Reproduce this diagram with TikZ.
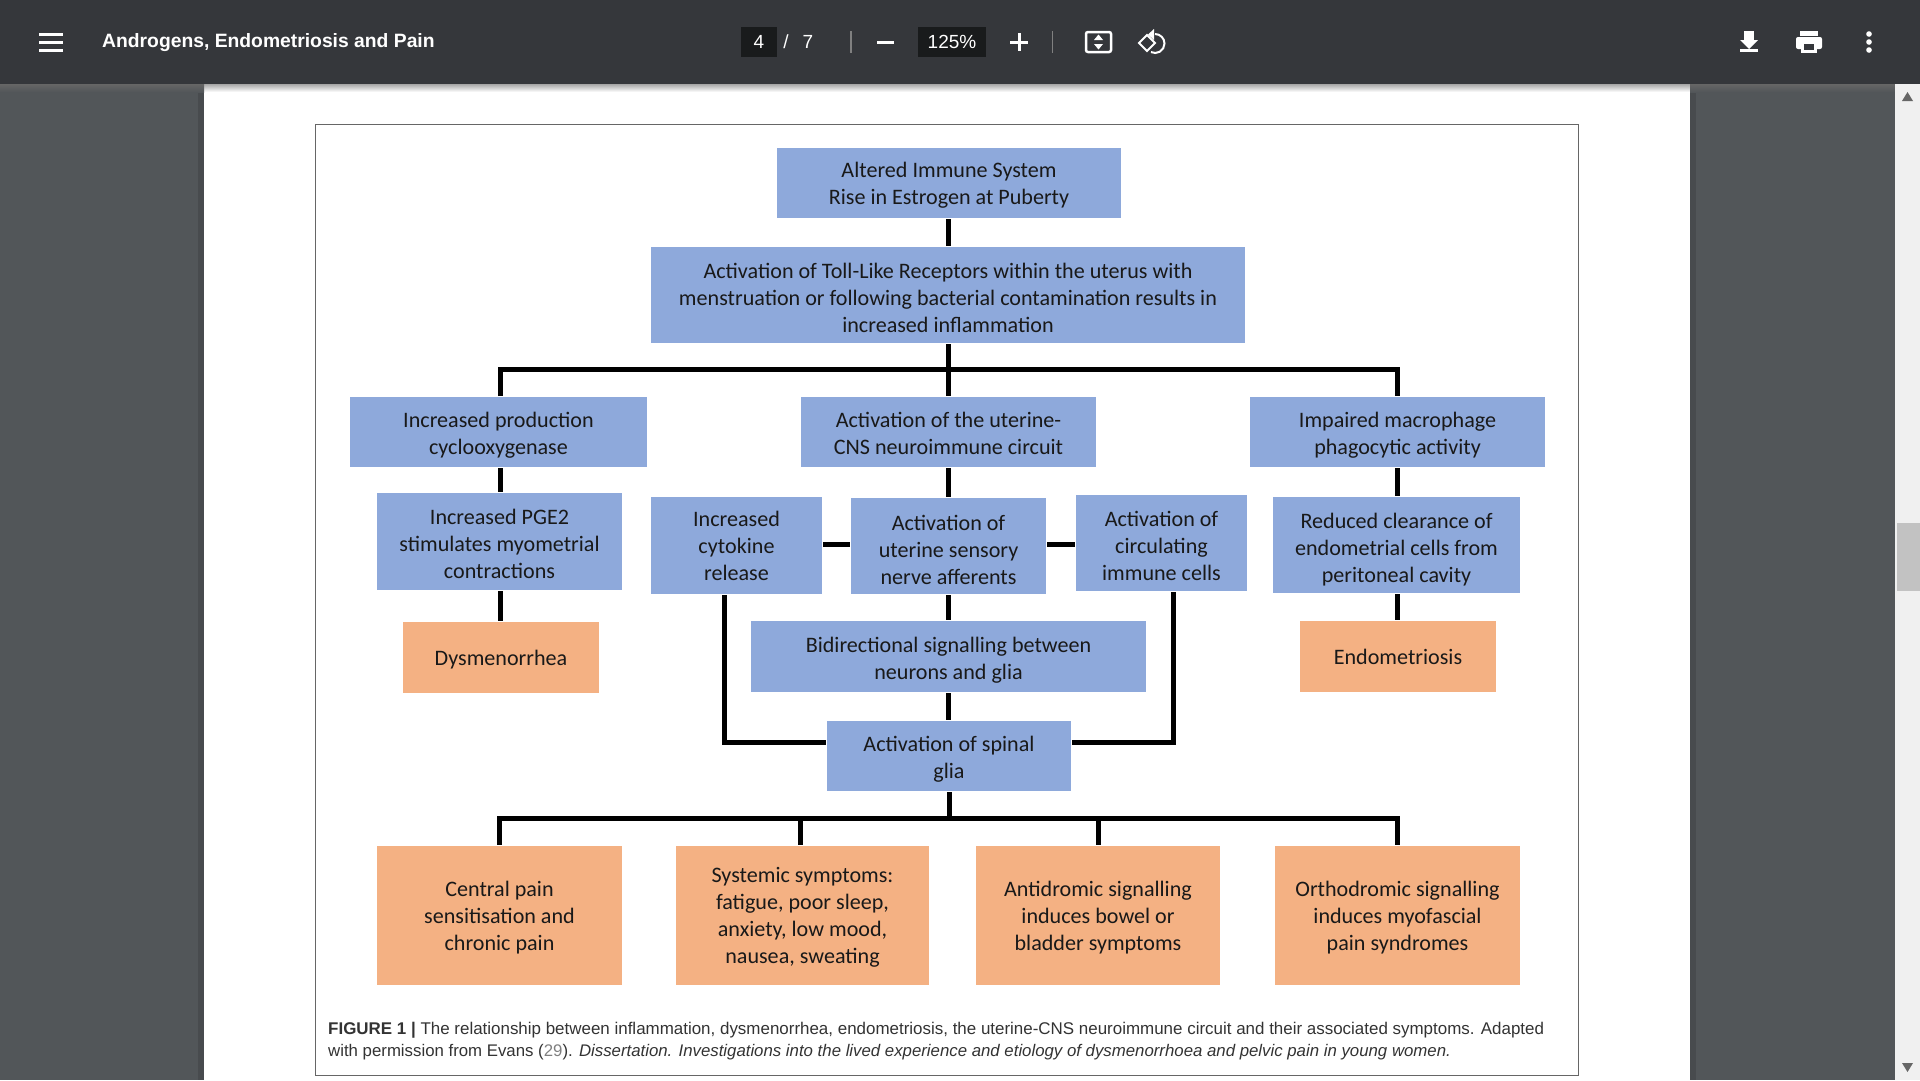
\documentclass[tikz,border=0pt]{standalone}
\usepackage{fontspec}
\setmainfont{Carlito}
\newfontfamily\barfont{Liberation Sans}
\usetikzlibrary{calc}
\definecolor{barcol}{HTML}{35373B}
\definecolor{sidecol}{HTML}{525659}
\definecolor{fieldcol}{HTML}{191B1C}
\definecolor{bluecol}{HTML}{8EA9DB}
\definecolor{orangecol}{HTML}{F4B183}
\tikzset{
	box/.style={inner sep=0pt, outer sep=1pt, align=center, text=black!90, font=\fontsize{22.1}{27}\selectfont, text depth=6pt},
	bluebox/.style 2 args={box, fill=bluecol, minimum width=#1, minimum height=#2},
	orangebox/.style 2 args={box, fill=orangecol, minimum width=#1, minimum height=#2},
	link/.style={line width=5pt, black},
	caption/.style={inner sep=0pt, anchor=west, text=black!80, font=\barfont\fontsize{16.95}{22}\selectfont},
	bartext/.style={inner sep=0pt, text=white, font=\barfont\fontsize{19}{22}\selectfont},
	icon/.style={white, line width=3pt}
}

\begin{document}
\begin{tikzpicture}[x=1pt, y=-1pt]
	\useasboundingbox (0, 0) rectangle (1920, 1080);
	\fill[sidecol] (0, 0) rectangle (1920, 1080);
	\fill[black, opacity=0.12] (198, 84) rectangle (204, 1080);
	\fill[black, opacity=0.12] (1690, 84) rectangle (1696, 1080);
	\fill[white] (204, 84) rectangle (1690, 1080);
	
	\shade[top color=black!35, bottom color=white] (204, 84) rectangle (1690, 92);
	\shade[top color=black!60, bottom color=sidecol] (0, 84) rectangle (204, 92);
	\shade[top color=black!60, bottom color=sidecol] (1690, 84) rectangle (1895, 92);
	
	\fill[black!6] (1895, 84) rectangle (1920, 1080);
	\fill[black!24] (1897, 523) rectangle (1920, 591);
	\fill[black!60] (1902, 101) -- (1907.5, 92) -- (1913, 101) -- cycle;
	\fill[black!60] (1902, 1063) -- (1907.5, 1072) -- (1913, 1063) -- cycle;
	
	\fill[barcol] (0, 0) rectangle (1920, 84);
	
	\draw[icon] (39, 34) -- (63, 34);
	\draw[icon] (39, 42) -- (63, 42);
	\draw[icon] (39, 50) -- (63, 50);
	\node[bartext, anchor=west, font=\barfont\bfseries\fontsize{19.3}{22}\selectfont] (doctitle) at (102, 43) {Androgens, Endometriosis and Pain};
	
	\fill[fieldcol] (741, 27) rectangle (777, 57);
	\node[bartext] (pagenum) at (759, 42) {4};
	\node[bartext] (pageslash) at (786, 42) {/};
	\node[bartext] (pagetotal) at (808, 42) {7};
	\draw[black!50, line width=1.5pt] (851, 31) -- (851, 53);
	\draw[icon] (877, 42) -- (894, 42);
	\fill[fieldcol] (918, 27) rectangle (986, 57);
	\node[bartext] (zoomlevel) at (952, 42) {125\%};
	\draw[icon] (1010, 42) -- (1028, 42);
	\draw[icon] (1019, 33) -- (1019, 51);
	\draw[black!50, line width=1pt] (1052, 31) -- (1052, 53);
	
	\draw[white, line width=2.5pt, rounded corners=2pt] (1086, 32) rectangle (1111, 52);
	\fill[white] (1094, 40) -- (1098.5, 34.5) -- (1103, 40) -- cycle;
	\fill[white] (1094, 44) -- (1098.5, 49.5) -- (1103, 44) -- cycle;
	\draw[white, line width=2pt] (1139, 43) -- (1147, 35) -- (1155, 43) -- (1147, 51) -- cycle;
	\draw[white, line width=2pt] (1155, 34) arc (-90:115:9.5);
	\fill[white] (1154, 29) -- (1154, 40) -- (1148, 34.5) -- cycle;
	
	\fill[white] (1744, 31) rectangle (1754, 41);
	\fill[white] (1740, 40) -- (1758, 40) -- (1749, 49) -- cycle;
	\fill[white] (1740, 49) rectangle (1758, 52);
	\fill[white] (1800, 31) rectangle (1818, 36);
	\fill[white, rounded corners=2pt] (1796, 37) rectangle (1822, 49);
	\fill[white] (1801, 44) rectangle (1817, 53);
	\fill[barcol] (1804, 44) rectangle (1814, 50);
	\fill[white] (1869, 34) circle (2.8);
	\fill[white] (1869, 42) circle (2.8);
	\fill[white] (1869, 50) circle (2.8);
	
	\draw[black!60, line width=1pt] (315, 124.5) rectangle (1578, 1075);
	
	\node[bluebox={344}{70}, text height=49pt] (immune) at (949, 183) {Altered Immune System\\Rise in Estrogen at Puberty};
	\node[bluebox={594}{96}, text height=80pt] (toll) at (948, 295) {Activation of Toll-Like Receptors within the uterus with\\menstruation or following bacterial contamination results in\\increased inflammation};
	
	\node[bluebox={297}{70}, text height=51pt] (production) at (498.5, 432) {Increased production\\cyclooxygenase};
	\node[bluebox={295}{70}, text height=51pt] (circuit) at (948.5, 432) {Activation of the uterine-\\CNS neuroimmune circuit};
	\node[bluebox={295}{70}, text height=51pt] (macrophage) at (1397.5, 432) {Impaired macrophage\\phagocytic activity};
	
	\node[bluebox={245}{97}, text height=80pt] (pge) at (499.5, 541.5) {Increased PGE2\\stimulates myometrial\\contractions};
	\node[orangebox={196}{71}, text height=21pt] (dysmenorrhea) at (501, 657.5) {Dysmenorrhea};
	
	\node[bluebox={171}{97}, text height=76pt] (cytokine) at (736.5, 545.5) {Increased\\cytokine\\release};
	\node[bluebox={195}{96}, text height=82pt] (sensory) at (948.5, 546) {Activation of\\uterine sensory\\nerve afferents};
	\node[bluebox={171}{96}, text height=81pt] (circulating) at (1161.5, 543) {Activation of\\circulating\\immune cells};
	\node[bluebox={247}{96}, text height=80pt] (clearance) at (1396.5, 545) {Reduced clearance of\\endometrial cells from\\peritoneal cavity};
	\node[orangebox={196}{71}, text height=21pt] (endometriosis) at (1398, 656.5) {Endometriosis};
	
	\node[bluebox={395}{71}, text height=52pt] (bidirectional) at (948.5, 656.5) {Bidirectional signalling between\\neurons and glia};
	\node[bluebox={244}{70}, text height=50pt] (spinal) at (949, 756) {Activation of spinal\\glia};
	
	\node[orangebox={245}{139}, text height=76pt] (central) at (499.5, 915) {Central pain\\sensitisation and\\chronic pain};
	\node[orangebox={253}{139}, text height=103pt] (systemic) at (802.5, 915) {Systemic symptoms:\\fatigue, poor sleep,\\anxiety, low mood,\\nausea, sweating};
	\node[orangebox={244}{139}, text height=76pt] (antidromic) at (1098, 915) {Antidromic signalling\\induces bowel or\\bladder symptoms};
	\node[orangebox={245}{139}, text height=76pt] (orthodromic) at (1397.5, 915) {Orthodromic signalling\\induces myofascial\\pain syndromes};
	
	\coordinate (colA) at (500, 0);
	\coordinate (colB) at (948.5, 0);
	\coordinate (colC) at (1397.5, 0);
	\coordinate (colS) at (800, 0);
	\coordinate (busTop) at (948.5, 369);
	\coordinate (busBottom) at (949, 818);
	\coordinate (rowMid) at (0, 544);
	\coordinate (dropLeft) at (724, 0);
	\coordinate (dropRight) at (1173, 0);
	\coordinate (rowSpinal) at (0, 742);
	
	\draw[link] (immune.south -| colB) -- (toll.north -| colB);
	\draw[link] (toll.south -| colB) -- (circuit.north -| colB);
	\draw[link] (production.north -| colA) |- (busTop) -| (macrophage.north -| colC);
	
	\draw[link] (production.south -| colA) -- (pge.north -| colA);
	\draw[link] (pge.south -| colA) -- (dysmenorrhea.north -| colA);
	\draw[link] (circuit.south -| colB) -- (sensory.north -| colB);
	\draw[link] (sensory.south -| colB) -- (bidirectional.north -| colB);
	\draw[link] (bidirectional.south -| colB) -- (spinal.north -| colB);
	\draw[link] (macrophage.south -| colC) -- (clearance.north -| colC);
	\draw[link] (clearance.south -| colC) -- (endometriosis.north -| colC);
	
	\draw[link] (cytokine.east |- rowMid) -- (sensory.west |- rowMid);
	\draw[link] (sensory.east |- rowMid) -- (circulating.west |- rowMid);
	\draw[link] (cytokine.south -| dropLeft) |- (spinal.west |- rowSpinal);
	\draw[link] (circulating.south -| dropRight) |- (spinal.east |- rowSpinal);
	
	\draw[link] (spinal.south) -- (busBottom);
	\draw[link] (central.north) |- (busBottom) -| (orthodromic.north);
	\draw[link] (busBottom) -| (systemic.north -| colS);
	\draw[link] (busBottom) -| (antidromic.north);
	
	\node[caption] (captionone) at (328, 1030) {\textbf{FIGURE 1 |} The relationship between inflammation, dysmenorrhea, endometriosis, the uterine-CNS neuroimmune circuit and their associated symptoms. Adapted};
	\node[caption, font=\barfont\fontsize{16.8}{22}\selectfont] (captiontwo) at (328, 1052.5) {with permission from Evans ({\color{black!50}29}). \textit{Dissertation. Investigations into the lived experience and etiology of dysmenorrhoea and pelvic pain in young women.}};
\end{tikzpicture}
\end{document}
